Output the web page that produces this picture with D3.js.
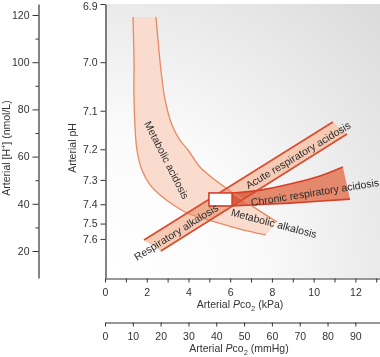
<!DOCTYPE html>
<html><head><meta charset="utf-8">
<script src="https://cdn.jsdelivr.net/npm/d3@7"></script>
<style>
body{margin:0;background:#fff;}
svg{display:block;font-family:"Liberation Sans",Arial,Helvetica,sans-serif;}
</style></head><body>
<svg id="c" width="380" height="357"></svg>
<script>
// ---------- data (x: arterial Pco2 in kPa, y: arterial [H+] in nmol/L) ----------
const hTicks = [20, 40, 60, 80, 100, 120];
const hMinorTicks = [30, 50, 70, 90, 110];
const phTicks = [6.9, 7.0, 7.1, 7.2, 7.3, 7.4, 7.5, 7.6];
const kpaTicks = [0,1,2,3,4,5,6,7,8,9,10,11,12,13];
const kpaLabels = [0,2,4,6,8,10,12];
const mmHgTicks = [0,10,20,30,40,50,60,70,80,90];

const metabolicOuter = [[1.34,119.2],[1.39,100.9],[1.39,84.0],[1.53,62.8],[1.77,54.3],[2.16,48.0],[2.64,43.7],[3.21,39.9],[3.93,36.1],[5.27,32.3],[6.47,29.3],[7.71,26.8]];
const metabolicInner = [[2.44,119.2],[2.54,109.4],[2.68,96.7],[2.88,84.0],[3.21,73.4],[3.59,67.0],[3.98,62.8],[4.55,55.6],[5.41,49.2],[6.47,42.5],[7.43,36.9],[8.24,32.3]];
const acuteUpper = [[1.87,24.66],[10.92,74.66]];
const acuteLower = [[2.68,20.0],[11.60,69.58]];
const chronicUpper = [[6.09,44.6],[7.43,45.8],[8.86,48.4],[10.30,51.8],[11.40,55.6]];
const chronicLower = [[6.09,39.1],[8.86,40.3],[11.74,42.0]];
const normalKpa = [4.98, 6.09];
const normalH = [39.1, 44.6];
const regionNames = ["Metabolic acidosis","Metabolic alkalosis","Respiratory alkalosis","Acute respiratory acidosis","Chronic respiratory acidosis"];
const regionLabelAt = [[2.97,58.6],[8.10,31.9],[3.40,28.1],[9.25,60.7],[10.06,45.0]];
const regionLabelAngle = [63, 15, -32, -31, -9];

// ---------- scales ----------
const x = d3.scaleLinear().domain([0, 13.18]).range([105, 380]);
const xmm = d3.scaleLinear().domain(x.domain().map(k => k * 7.50062)).range(x.range());
const y = d3.scaleLinear().domain([8.56, 124.66]).range([278, 4]);
const yPH = y.copy().clamp(true);
const phToH = p => Math.pow(10, 9 - p);

const svg = d3.select("#c");
const defs = svg.append("defs");
const g = defs.append("radialGradient").attr("id","bg").attr("gradientUnits","userSpaceOnUse")
  .attr("cx", x.range()[0]).attr("cy", y.range()[0]).attr("r", 390);
g.append("stop").attr("offset",0).attr("stop-color","#ffffff");
g.append("stop").attr("offset",0.4).attr("stop-color","#fafafa");
g.append("stop").attr("offset",1).attr("stop-color","#dadada");

svg.append("rect").attr("x", x.range()[0]).attr("y", y.range()[1])
  .attr("width", x.range()[1]-x.range()[0]).attr("height", y.range()[0]-y.range()[1])
  .attr("fill","url(#bg)");

const plot = svg.append("g").style("isolation","isolate");
const lineGen = d3.line().x(d => x(d[0])).y(d => y(d[1])).curve(d3.curveCatmullRom.alpha(0.5));
const straight = d3.line().x(d => x(d[0])).y(d => y(d[1]));
const band = (a, b, gen) => gen(a) + gen(b.slice().reverse()).replace(/^M/, "L") + "Z";

// fills
plot.append("path").attr("d", band(metabolicOuter, metabolicInner, lineGen))
  .attr("fill", "#f9dccd").style("mix-blend-mode","multiply");
plot.append("path").attr("d", band(acuteLower, acuteUpper, straight))
  .attr("fill", "#f5cbb6").style("mix-blend-mode","multiply");
plot.append("path").attr("d", band(chronicUpper, chronicLower, lineGen))
  .attr("fill", "#e5896d").style("mix-blend-mode","multiply");

// edges
[metabolicOuter, metabolicInner].forEach(e => plot.append("path").attr("d", lineGen(e))
  .attr("fill","none").attr("stroke","#e88963").attr("stroke-width",1.3));
[acuteUpper, acuteLower].forEach(e => plot.append("path").attr("d", straight(e))
  .attr("fill","none").attr("stroke","#da4a2c").attr("stroke-width",1.6));
[chronicUpper, chronicLower].forEach(e => plot.append("path").attr("d", lineGen(e))
  .attr("fill","none").attr("stroke","#d6402a").attr("stroke-width",1.6));

// normal box
plot.append("rect").attr("x", x(normalKpa[0])).attr("y", y(normalH[1]))
  .attr("width", x(normalKpa[1]) - x(normalKpa[0])).attr("height", y(normalH[0]) - y(normalH[1]))
  .attr("fill","#ffffff").attr("stroke","#d6402a").attr("stroke-width",1.6);

// region labels
regionNames.forEach((t, i) => {
  const [k, h] = regionLabelAt[i];
  plot.append("text").attr("transform", `translate(${x(k)},${y(h)}) rotate(${regionLabelAngle[i]})`)
    .attr("text-anchor","middle").attr("dominant-baseline","central")
    .attr("font-size", 10.5).attr("fill","#2b2b2b").text(t);
});

// ---------- axes ----------
function styleAxis(sel){
  sel.selectAll("path.domain").attr("stroke","#333").attr("stroke-width",1.2);
  sel.selectAll(".tick line").attr("stroke","#333").attr("stroke-width",1);
  sel.selectAll(".tick text").attr("fill","#333").attr("font-size",10.5)
     .attr("font-family",'"Liberation Sans",Arial,Helvetica,sans-serif');
}
// H+ axis
const hAx = svg.append("g").attr("transform","translate(38.5,0)")
  .call(d3.axisLeft(y).tickValues(hTicks).tickSize(6).tickPadding(3).tickSizeOuter(0));
styleAxis(hAx);
const hMin = svg.append("g").attr("transform","translate(38.5,0)")
  .call(d3.axisLeft(y).tickValues(hMinorTicks).tickSize(3).tickFormat("").tickSizeOuter(0));
hMin.select("path.domain").remove();
styleAxis(hMin);
// pH axis
const phAx = svg.append("g").attr("transform","translate(105.5,0)")
  .call(d3.axisLeft(yPH).tickValues(phTicks.map(phToH)).tickSize(5).tickPadding(3).tickSizeOuter(0)
    .tickFormat(h => d3.format(".1f")(9 - Math.log10(h))));
styleAxis(phAx);
phAx.selectAll(".tick text").filter((d, i) => i === 0).attr("dy", "0.55em");
// kPa axis
const kAx = svg.append("g").attr("transform","translate(0,278.5)")
  .call(d3.axisBottom(x).tickValues(kpaTicks).tickSize(4).tickPadding(6).tickSizeOuter(0)
    .tickFormat(d => kpaLabels.includes(d) ? d : ""));
styleAxis(kAx);
// mmHg axis
const mAx = svg.append("g").attr("transform","translate(0,322.5)")
  .call(d3.axisBottom(xmm).tickValues(mmHgTicks).tickSize(4).tickPadding(6).tickSizeOuter(0));
styleAxis(mAx);

// ---------- axis titles ----------
const tt = svg.append("g").attr("fill","#333").attr("font-size",10.5);
const hT = tt.append("text").attr("transform","translate(10,148) rotate(-90)").attr("text-anchor","middle");
hT.append("tspan").text("Arterial [H");
hT.append("tspan").attr("font-size",7.5).attr("dy",-4).text("+");
hT.append("tspan").attr("dy",4).text("] (nmol/L)");
tt.append("text").attr("transform","translate(76,148) rotate(-90)").attr("text-anchor","middle").text("Arterial pH");
function pco2Title(cx, cy, unit){
  const t = tt.append("text").attr("x",cx).attr("y",cy).attr("text-anchor","middle");
  t.append("tspan").text("Arterial ");
  t.append("tspan").attr("font-style","italic").text("P");
  t.append("tspan").text("co");
  t.append("tspan").attr("font-size",7.5).attr("dy",2.5).text("2");
  t.append("tspan").attr("dy",-2.5).text(" (" + unit + ")");
}
pco2Title(240, 308, "kPa");
pco2Title(239, 352, "mmHg");
</script>
</body></html>
